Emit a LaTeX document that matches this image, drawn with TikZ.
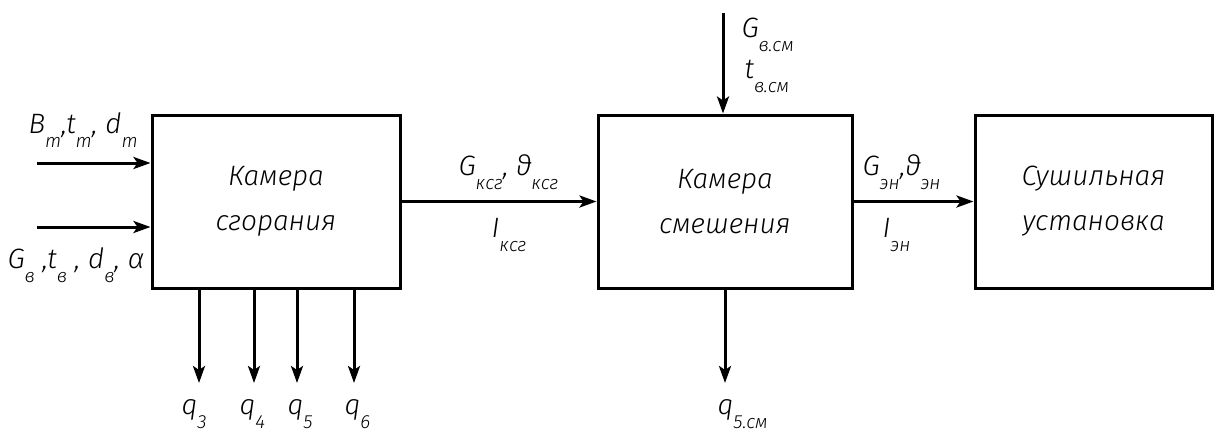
\documentclass[tikz,border=0pt]{standalone}
\usepackage{fontspec}
\usetikzlibrary{arrows.meta}
\newfontfamily\gost{Fira Sans Light Italic}
\newcommand\sbx[1]{\raisebox{-14pt}{\fontsize{19}{19}\selectfont #1}}
\begin{document}
\begin{tikzpicture}[x=1pt,y=-1pt,line width=3pt,
  >={Stealth[length=17pt,width=12pt,inset=4pt]},
  box/.style={draw,line width=3pt,minimum height=173pt,align=center,
    font=\gost\fontsize{28}{45}\selectfont},
  lab/.style={anchor=base west,inner sep=0pt,font=\gost\fontsize{28}{32}\selectfont}]
\useasboundingbox (0,0) rectangle (1214,439);
\node[box,minimum width=248pt] (k1) at (276,201.5) {Камера\\сгорания};
\node[box,minimum width=254pt] (k2) at (725,201.5) {Камера\\смешения};
\node[box,minimum width=237pt] (k3) at (1093.5,201.5) {Сушильная\\установка};
% inputs
\coordinate (i1) at (37,163);
\coordinate (i2) at (37,227);
\draw[->] (i1) -- (i1 -| k1.west);
\draw[->] (i2) -- (i2 -| k1.west);
\draw[->] (k1.east) -- (k2.west);
\draw[->] (k2.east) -- (k3.west);
\coordinate (t) at (723,13);
\draw[->] (t) -- (t |- k2.north);
\coordinate (q3e) at (199,383);
\coordinate (q4e) at (254,383);
\coordinate (q5e) at (297,383);
\coordinate (q6e) at (354,383);
\coordinate (q7e) at (725,383);
\foreach \c in {q3e,q4e,q5e,q6e} \draw[->] (k1.south -| \c) -- (\c);
\draw[->] (k2.south -| q7e) -- (q7e);
% labels
\node[lab] (lB) at (27,133) {B\sbx{m},t\sbx{m}, d\sbx{m}};
\node[lab] (lG) at (6,268) {G\sbx{в} ,t\sbx{в} , d\sbx{в}, α};
\node[lab] (lK) at (457,175) {G\sbx{ксг}, ϑ\sbx{ксг}};
\node[lab] (lI) at (490,237) {I\sbx{ксг}};
\node[lab] (lGs) at (740,37) {G\sbx{в.см}};
\node[lab] (lts) at (743,78) {t\sbx{в.см}};
\node[lab] (lE) at (861,175) {G\sbx{эн},ϑ\sbx{эн}};
\node[lab] (lIe) at (881,237) {I\sbx{эн}};
\node[lab] (q3) at (180,414) {q\sbx{3}};
\node[lab] (q4) at (238,414) {q\sbx{4}};
\node[lab] (q5) at (286,414) {q\sbx{5}};
\node[lab] (q6) at (343,414) {q\sbx{6}};
\node[lab] (q7) at (716,414) {q\sbx{5.см}};
\end{tikzpicture}
\end{document}
